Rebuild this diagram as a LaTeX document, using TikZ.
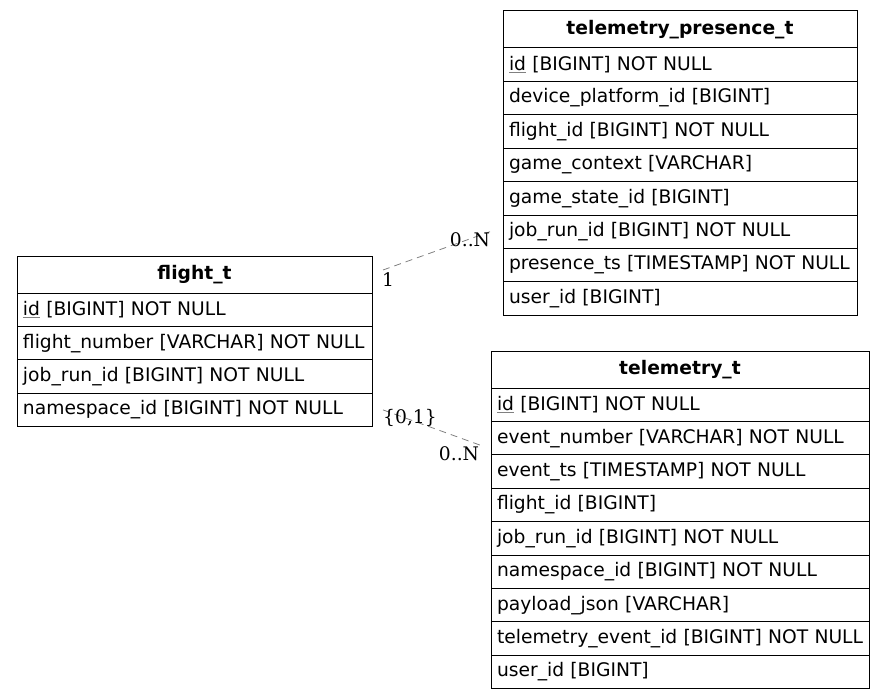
\documentclass[tikz,border=0pt]{standalone}
\usepackage{fontspec}
\setmainfont{DejaVu Serif}
\newfontfamily\tablefont{DejaVu Sans}
\usetikzlibrary{positioning,calc}
\tikzstyle{tablerow}=[draw,line width=1pt,rectangle,outer sep=0pt,inner xsep=6pt,inner ysep=0pt,minimum height=33.4pt,align=left,font=\tablefont\fontsize{18.7}{22}\selectfont]
\tikzstyle{tablehead}=[tablerow,minimum height=37pt,align=center,font=\tablefont\bfseries\fontsize{18.7}{22}\selectfont]
\tikzstyle{relation}=[draw=gray,dashed,line width=0.8pt,dash pattern=on 7pt off 5pt]
\tikzstyle{cardinality}=[inner sep=0pt,font=\fontsize{18.7}{22}\selectfont]
\newcommand{\pkey}[1]{\rlap{\color{gray}\underline{\phantom{#1}}}#1}
\newcommand{\drawtable}[6]{
\pgfmathsetmacro{\tw}{#4-12}
\node[tablehead,text width=\tw pt,anchor=north west] (#1-0) at (#2,#3) {#5};
  \foreach \r [count=\i] in {#6} {
    \pgfmathtruncatemacro{\p}{\i-1}
    \node[tablerow,text width=\tw pt,below=0pt of #1-\p.south west,anchor=north west] (#1-\i) {\mbox{\r}};
  }
}

\begin{document}
\begin{tikzpicture}[x=1pt,y=-1pt]
	\useasboundingbox (0,0) rectangle (884,698);
	\drawtable{flight}{17}{256}{355}{flight\_t}{\pkey{id} [BIGINT] NOT NULL,flight\_number [VARCHAR] NOT NULL,job\_run\_id [BIGINT] NOT NULL,namespace\_id [BIGINT] NOT NULL}
	\drawtable{presence}{503}{11}{354}{telemetry\_presence\_t}{\pkey{id} [BIGINT] NOT NULL,device\_platform\_id [BIGINT],flight\_id [BIGINT] NOT NULL,game\_context [VARCHAR],game\_state\_id [BIGINT],job\_run\_id [BIGINT] NOT NULL,presence\_ts [TIMESTAMP] NOT NULL,user\_id [BIGINT]}
	\drawtable{telemetry}{491}{351}{378}{telemetry\_t}{\pkey{id} [BIGINT] NOT NULL,event\_number [VARCHAR] NOT NULL,event\_ts [TIMESTAMP] NOT NULL,flight\_id [BIGINT],job\_run\_id [BIGINT] NOT NULL,namespace\_id [BIGINT] NOT NULL,payload\_json [VARCHAR],telemetry\_event\_id [BIGINT] NOT NULL,user\_id [BIGINT]}
	% flight_t -> telemetry_presence_t
	\coordinate (presence-from) at ([xshift=11pt,yshift=4.5pt]flight-0.east);
	\coordinate (presence-to) at ([xshift=-13pt]presence-6.west);
	\draw[relation] (presence-from) -- (presence-to);
	\node[cardinality] (presence-one) at ([xshift=5pt,yshift=-10pt]presence-from) {1};
	\node[cardinality] (presence-many) at ([xshift=-20pt,yshift=-8pt]presence-to) {0..N};
	% flight_t -> telemetry_t
	\coordinate (telemetry-from) at ([xshift=11pt]flight-4.east);
	\coordinate (telemetry-to) at ([xshift=-11pt,yshift=-7pt]telemetry-2.west);
	\draw[relation] (telemetry-from) -- (telemetry-to);
	\node[cardinality] (telemetry-one) at ([xshift=27pt,yshift=-8pt]telemetry-from) {\{0,1\}};
	\node[cardinality] (telemetry-many) at ([xshift=-21pt,yshift=-9pt]telemetry-to) {0..N};
\end{tikzpicture}
\end{document}
